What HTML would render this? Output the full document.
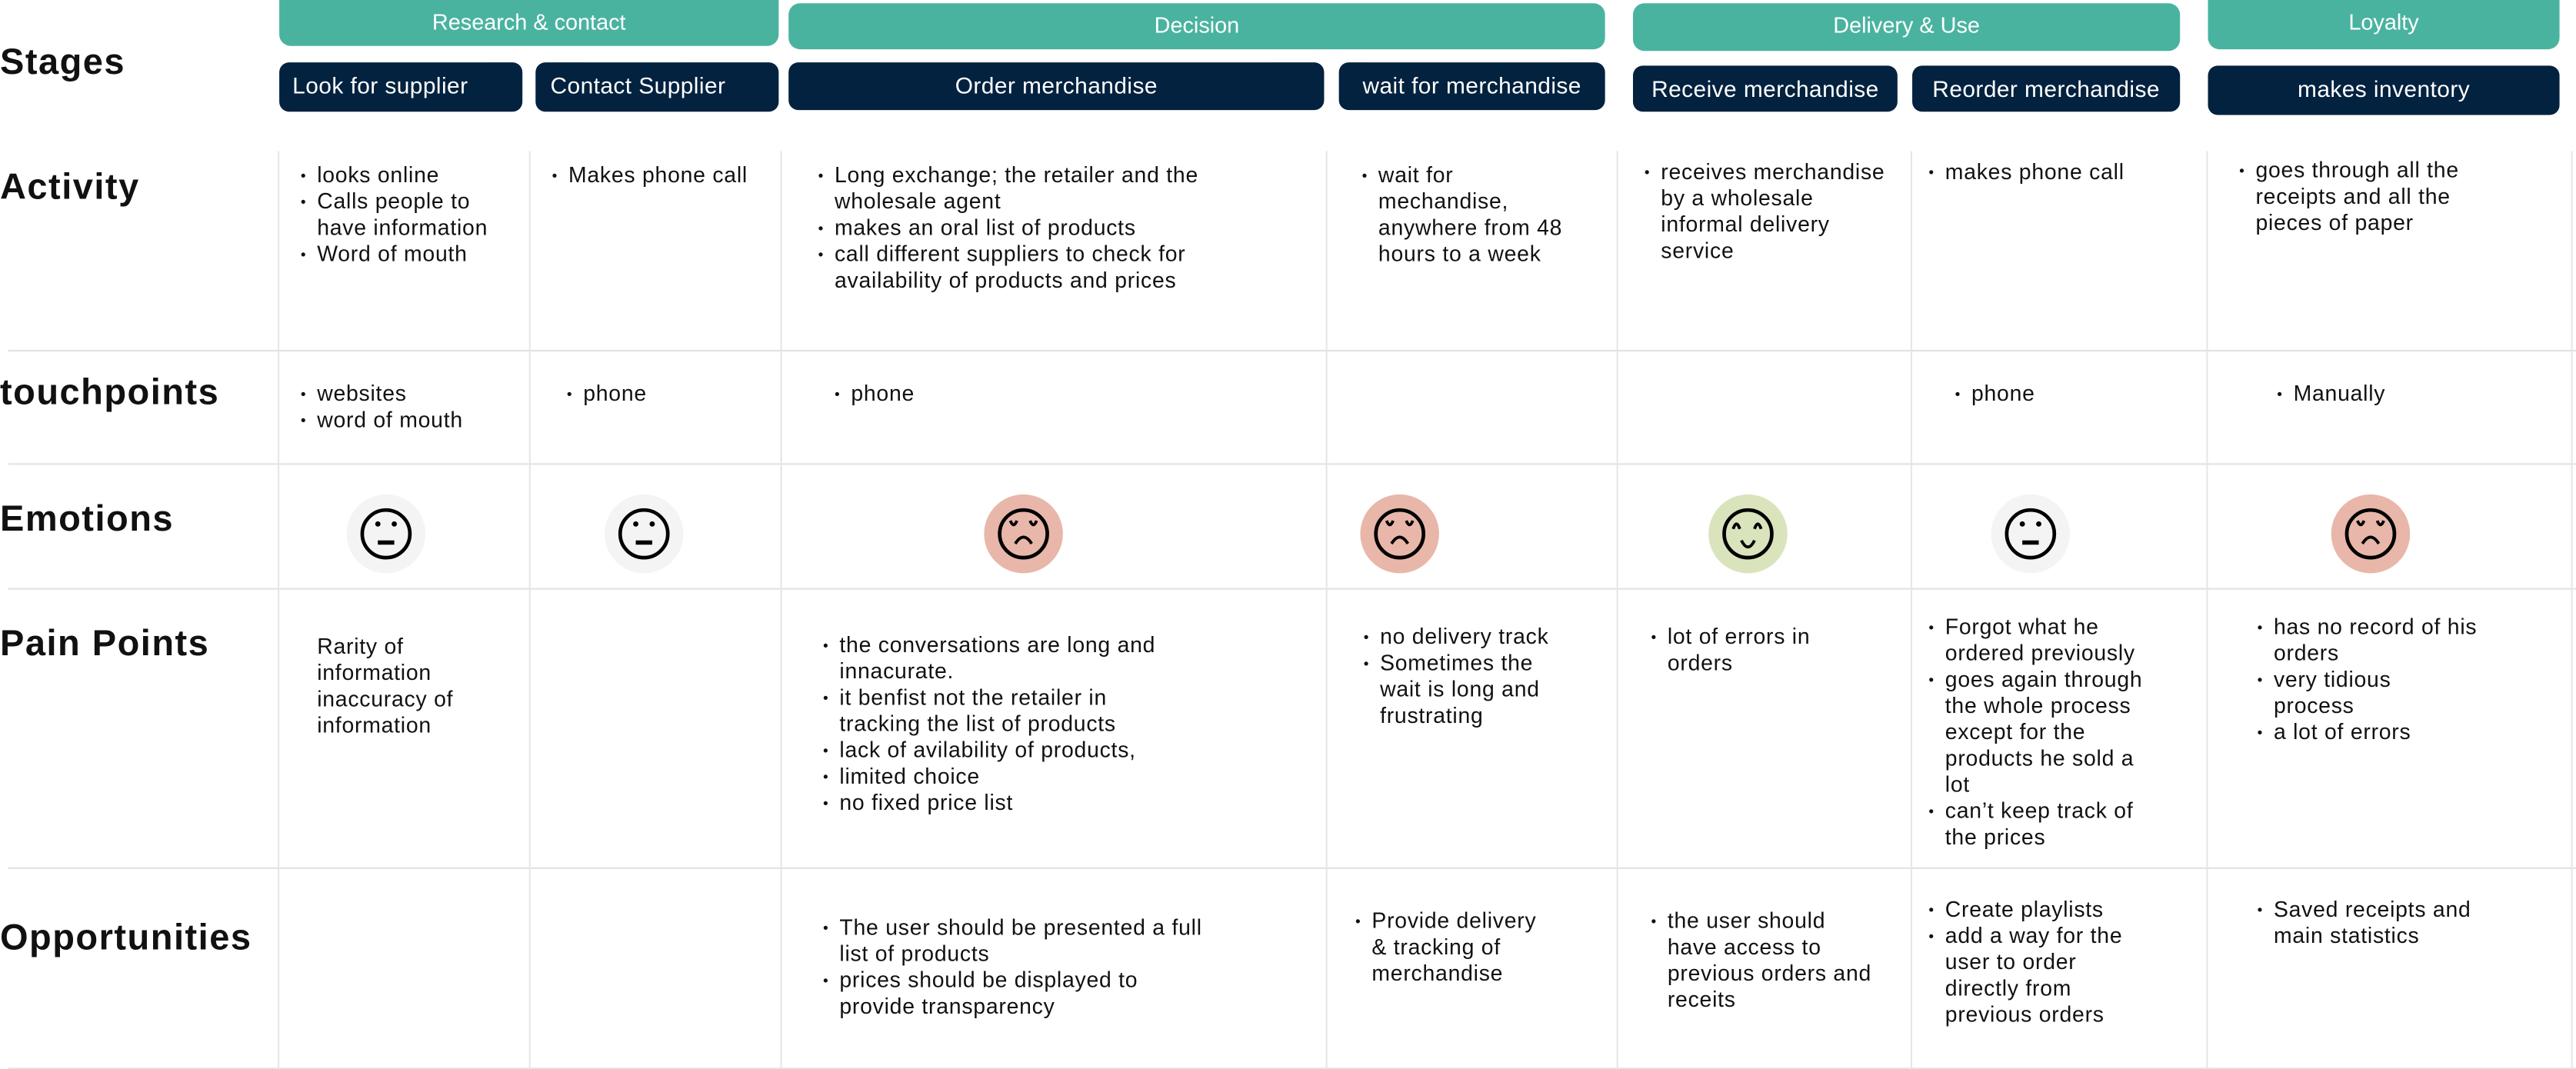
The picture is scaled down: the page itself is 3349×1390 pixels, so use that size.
<!DOCTYPE html>
<html><head><meta charset="utf-8"><style>
html,body{margin:0;padding:0;background:#fff;width:3349px;height:1390px;overflow:hidden}
#w{position:absolute;left:0;top:0;width:1568px;height:651px;transform:scale(2.1358);transform-origin:0 0;font-family:"Liberation Sans",sans-serif;color:#111}
.t{position:absolute;background:#4ab3a0;color:#fff;font-size:13.5px;text-align:center;border-radius:0 0 7px 7px;line-height:28px}
.d{position:absolute;background:#03223f;color:#fff;font-size:14px;border-radius:6px;line-height:29px;text-align:center;letter-spacing:.2px}
.lab{position:absolute;left:0;font-weight:bold;font-size:22px;line-height:24px;letter-spacing:.7px}
.h{position:absolute;left:5px;width:1563px;height:1px;background:#e2e2e2}
.v{position:absolute;top:92px;height:559px;width:1px;background:#e6e6e6}
.x{position:absolute;font-size:13.3px;line-height:16px;white-space:nowrap;letter-spacing:.35px;margin-top:1px}
.x div{position:relative}
.b div:not(.c)::before{content:"•";position:absolute;left:-10px;font-size:9px}
.c{}
</style></head><body><div id="w">
<div class="t" style="left:170px;top:0;width:304px;height:28px;line-height:28px">Research &amp; contact</div>
<div class="t" style="left:480px;top:2px;width:497px;height:28px;border-radius:7px">Decision</div>
<div class="t" style="left:994px;top:2px;width:333px;height:29px;border-radius:7px">Delivery &amp; Use</div>
<div class="t" style="left:1344px;top:0;width:214px;height:30px">Loyalty</div>

<div class="d" style="left:170px;top:38px;width:148px;height:30px;text-align:left;padding-left:8px;box-sizing:border-box">Look for supplier</div>
<div class="d" style="left:326px;top:38px;width:148px;height:30px;text-align:left;padding-left:9px;box-sizing:border-box">Contact Supplier</div>
<div class="d" style="left:480px;top:38px;width:326px;height:29px">Order merchandise</div>
<div class="d" style="left:815px;top:38px;width:162px;height:29px">wait for merchandise</div>
<div class="d" style="left:994px;top:40px;width:161px;height:28px;line-height:28px">Receive merchandise</div>
<div class="d" style="left:1164px;top:40px;width:163px;height:28px;line-height:28px">Reorder merchandise</div>
<div class="d" style="left:1344px;top:40px;width:214px;height:30px">makes inventory</div>

<div class="lab" style="top:26px">Stages</div>
<div class="lab" style="top:102px">Activity</div>
<div class="lab" style="top:227px">touchpoints</div>
<div class="lab" style="top:304px">Emotions</div>
<div class="lab" style="top:380px">Pain Points</div>
<div class="lab" style="top:559px">Opportunities</div>

<div class="h" style="top:213px"></div><div class="h" style="top:282px"></div><div class="h" style="top:358px"></div><div class="h" style="top:528px"></div><div class="h" style="top:650px"></div>
<div class="v" style="left:169px"></div><div class="v" style="left:322px"></div><div class="v" style="left:475px"></div><div class="v" style="left:807px"></div><div class="v" style="left:984px"></div><div class="v" style="left:1163px"></div><div class="v" style="left:1343px"></div><div class="v" style="left:1565px"></div>

<div class="x b" style="left:193px;top:98px"><div>looks online</div><div>Calls people to</div><div class="c">have information</div><div>Word of mouth</div></div>
<div class="x b" style="left:346px;top:98px"><div>Makes phone call</div></div>
<div class="x b" style="left:508px;top:98px"><div>Long exchange; the retailer and the</div><div class="c">wholesale agent</div><div>makes an oral list of products</div><div>call different suppliers to check for</div><div class="c">availability of products and prices</div></div>
<div class="x b" style="left:839px;top:98px"><div>wait for</div><div class="c">mechandise,</div><div class="c">anywhere from 48</div><div class="c">hours to a week</div></div>
<div class="x b" style="left:1011px;top:96px"><div>receives merchandise</div><div class="c">by a wholesale</div><div class="c">informal delivery</div><div class="c">service</div></div>
<div class="x b" style="left:1184px;top:96px"><div>makes phone call</div></div>
<div class="x b" style="left:1373px;top:95px"><div>goes through all the</div><div class="c">receipts and all the</div><div class="c">pieces of paper</div></div>

<div class="x b" style="left:193px;top:231px"><div>websites</div><div>word of mouth</div></div>
<div class="x b" style="left:355px;top:231px"><div>phone</div></div>
<div class="x b" style="left:518px;top:231px"><div>phone</div></div>
<div class="x b" style="left:1200px;top:231px"><div>phone</div></div>
<div class="x b" style="left:1396px;top:231px"><div>Manually</div></div>

<svg style="position:absolute;left:0;top:0" width="1568" height="651">
<defs>
<g id="neu"><circle r="14.5" fill="none" stroke="#000" stroke-width="2.2"/><circle cx="-5" cy="-6" r="1.6"/><circle cx="5" cy="-6" r="1.6"/><rect x="-5" y="4" width="10" height="2.6"/></g>
<g id="sad"><circle r="14.5" fill="none" stroke="#000" stroke-width="2.2"/><path d="M-8,-8 Q-6,-3 -4,-8 M4,-8 Q6,-3 8,-8 M-5,6 Q0,-2 5,6" fill="none" stroke="#000" stroke-width="1.8"/></g>
<g id="hap"><circle r="14.5" fill="none" stroke="#000" stroke-width="2.2"/><path d="M-9,-3 Q-7,-9 -5,-3 M4,-3 Q6,-9 8,-3 M-4,4 Q0,12 4,4" fill="none" stroke="#000" stroke-width="1.8"/></g>
</defs>
<circle cx="235" cy="325" r="24" fill="#f4f4f4"/><use href="#neu" x="235" y="325"/>
<circle cx="392" cy="325" r="24" fill="#f4f4f4"/><use href="#neu" x="392" y="325"/>
<circle cx="623" cy="325" r="24" fill="#e8b7a9"/><use href="#sad" x="623" y="325"/>
<circle cx="852" cy="325" r="24" fill="#e8b7a9"/><use href="#sad" x="852" y="325"/>
<circle cx="1064" cy="325" r="24" fill="#d9e4bc"/><use href="#hap" x="1064" y="325"/>
<circle cx="1236" cy="325" r="24" fill="#f4f4f4"/><use href="#neu" x="1236" y="325"/>
<circle cx="1443" cy="325" r="24" fill="#e8b7a9"/><use href="#sad" x="1443" y="325"/>
</svg>

<div class="x" style="left:193px;top:385px"><div>Rarity of</div><div>information</div><div>inaccuracy of</div><div>information</div></div>
<div class="x b" style="left:511px;top:384px"><div>the conversations are long and</div><div class="c">innacurate.</div><div>it benfist not the retailer in</div><div class="c">tracking the list of products</div><div>lack of avilability of products,</div><div>limited choice</div><div>no fixed price list</div></div>
<div class="x b" style="left:840px;top:379px"><div>no delivery track</div><div>Sometimes the</div><div class="c">wait is long and</div><div class="c">frustrating</div></div>
<div class="x b" style="left:1015px;top:379px"><div>lot of errors in</div><div class="c">orders</div></div>
<div class="x b" style="left:1184px;top:373px"><div>Forgot what he</div><div class="c">ordered previously</div><div>goes again through</div><div class="c">the whole process</div><div class="c">except for the</div><div class="c">products he sold a</div><div class="c">lot</div><div>can’t keep track of</div><div class="c">the prices</div></div>
<div class="x b" style="left:1384px;top:373px"><div>has no record of his</div><div class="c">orders</div><div>very tidious</div><div class="c">process</div><div>a lot of errors</div></div>

<div class="x b" style="left:511px;top:556px"><div>The user should be presented a full</div><div class="c">list of products</div><div>prices should be displayed to</div><div class="c">provide transparency</div></div>
<div class="x b" style="left:835px;top:552px"><div>Provide delivery</div><div class="c">&amp; tracking of</div><div class="c">merchandise</div></div>
<div class="x b" style="left:1015px;top:552px"><div>the user should</div><div class="c">have access to</div><div class="c">previous orders and</div><div class="c">receits</div></div>
<div class="x b" style="left:1184px;top:545px"><div>Create playlists</div><div>add a way for the</div><div class="c">user to order</div><div class="c">directly from</div><div class="c">previous orders</div></div>
<div class="x b" style="left:1384px;top:545px"><div>Saved receipts and</div><div class="c">main statistics</div></div>
</div></body></html>
